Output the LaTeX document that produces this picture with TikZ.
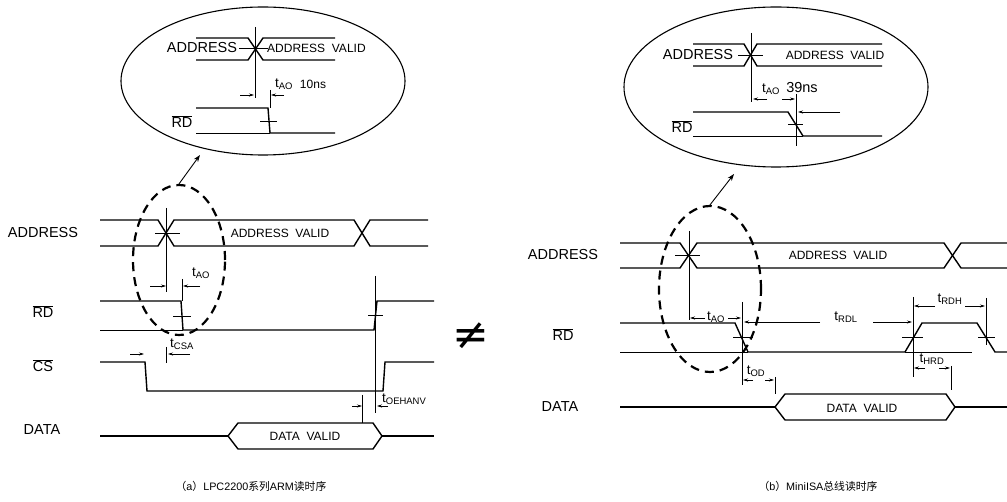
\documentclass[tikz,border=0pt]{standalone}
\usepackage{fontspec}
\setmainfont{Liberation Sans}
\newfontfamily\cjk{Noto Sans CJK SC}
\newfontfamily\djv{DejaVu Sans}
\usetikzlibrary{arrows.meta,shapes.geometric}
\newcommand{\tsb}[1]{t\textsubscript{#1}}
\newcommand{\ovl}[1]{$\overline{\hbox{#1}}$}
\tikzset{
  sig/.style={line width=1.4pt},
  thn/.style={line width=0.6pt},
  tarr/.style={line width=0.6pt,-{Stealth[length=5pt,width=3pt]}},
  lbl/.style={inner sep=0pt,font=\fontsize{14.5}{14.5}\selectfont},
  inlbl/.style={inner sep=0pt,font=\fontsize{12}{12}\selectfont},
  tlbl/.style={inner sep=0pt,font=\fontsize{13.5}{13.5}\selectfont},
  captxt/.style={inner sep=0pt,font=\fontsize{10.8}{10.8}\selectfont},
  dash ell/.style={ellipse,draw,line width=2.2pt,dash pattern=on 9pt off 6pt,inner sep=0pt},
  solid ell/.style={ellipse,draw,line width=1.1pt,inner sep=0pt},
  zoomarrow/.style={line width=0.9pt,-{Stealth[length=7pt,width=5pt]}}
}
\begin{document}
\begin{tikzpicture}[x=1pt,y=-1pt]
\useasboundingbox (0,0) rectangle (1007,502);

% ================= (a) =================
\node[lbl] (aAddr) at (43,233) {ADDRESS};
\node[lbl] (aRD) at (43,312) {\ovl{RD}};
\node[lbl] (aCS) at (43,366) {\ovl{CS}};
\node[lbl] (aData) at (42,430) {DATA};

% address bus
\draw[sig] (100,220) -- (158,220) -- (174,246) -- (354,246) -- (370,220) -- (428,220);
\draw[sig] (100,246) -- (158,246) -- (174,220) -- (354,220) -- (370,246) -- (428,246);
\node[inlbl] (aAV) at (280,233) {ADDRESS\ \ VALID};
\draw[thn] (155,233) -- (180,233);
\draw[thn] (166,208) -- (166,292);
% tAO
\draw[tarr] (150,286) -- (166,286);
\draw[tarr] (200,286) -- (183,286);
\draw[thn] (182,279) -- (182,301);
\node[tlbl] (aTAO) at (201,273) {\tsb{AO}};
% RD
\draw[thn] (100,330) -- (183,330);
\draw[sig] (100,301) -- (181,301) -- (183,330) -- (374,330) -- (377,301) -- (434,301);
\draw[thn] (173,316) -- (191,316);
\draw[thn] (368,315) -- (383,315);
\draw[thn] (375,276) -- (375,413);
% CS
\draw[sig] (100,362) -- (145,362) -- (147,391) -- (383,391) -- (385,362) -- (434,362);
\draw[tarr] (130,354) -- (144,354);
\draw[thn] (166,347) -- (166,363);
\draw[tarr] (190,354) -- (168,354);
\node[tlbl,anchor=west] (aTCSA) at (170,344) {\tsb{CSA}};
% tOEHANV
\draw[tarr] (352,406) -- (362,406);
\draw[thn] (362,395) -- (362,423);
\draw[tarr] (388,406) -- (377,406);
\node[tlbl,anchor=west] (aTOE) at (382,399) {\tsb{OEHANV}};
% DATA
\draw[sig] (100,436) -- (228,436);
\draw[sig] (228,436) -- (238,423) -- (373,423) -- (382,436) -- (373,449) -- (238,449) -- cycle;
\draw[sig] (382,436) -- (434,436);
\node[inlbl] (aDV) at (305,436) {DATA\ \ VALID};

% dashed ellipse and zoom ellipse
\node[dash ell,minimum width=92pt,minimum height=150pt] (aDash) at (179,260) {};
\node[solid ell,minimum width=284pt,minimum height=148pt] (aZoom) at (263,81) {};
\coordinate (aTip) at (200,155);
\draw[zoomarrow] (aDash.north) -- (aTip);

% inside zoom (a)
\node[lbl] (azAddr) at (202,48) {ADDRESS};
\draw[sig] (196,38) -- (248,38) -- (263,60) -- (335,60);
\draw[sig] (196,60) -- (248,60) -- (263,38) -- (335,38);
\draw[thn] (239,48) -- (268,48);
\draw[thn] (255,27) -- (255,98);
\node[inlbl,anchor=west] (azAV) at (267,48) {ADDRESS\ \ VALID};
\draw[tarr] (240,95) -- (254,95);
\draw[tarr] (284,95) -- (271,95);
\draw[thn] (270,90) -- (270,108);
\node[tlbl] (azTAO) at (284,84) {\tsb{AO}};
\node[inlbl] (az10) at (313,84) {10ns};
\node[lbl] (azRD) at (182,122) {\ovl{RD}};
\draw[thn] (196,133) -- (270,133);
\draw[sig] (196,108) -- (268,108) -- (270,133) -- (335,133);
\draw[thn] (260,121) -- (277,121);

% not equal sign
\node[inner sep=0pt,font=\djv\fontsize{44}{44}\selectfont] (neq) at (471,336) {≠};

% ================= (b) =================
\node[lbl] (bAddr) at (563,255) {ADDRESS};
\node[lbl] (bRD) at (563,335) {\ovl{RD}};
\node[lbl] (bData) at (560,407) {DATA};

\draw[sig] (620,243) -- (680,243) -- (697,268) -- (944,268) -- (961,243) -- (1007,243);
\draw[sig] (620,268) -- (680,268) -- (697,243) -- (944,243) -- (961,268) -- (1007,268);
\node[inlbl] (bAV) at (838,255) {ADDRESS\ \ VALID};
\draw[thn] (675,255) -- (700,255);
\draw[thn] (689,231) -- (689,320);
% tAO
\draw[tarr] (705,318) -- (690,318);
\node[tlbl] (bTAO) at (716,317) {\tsb{AO}};
\draw[tarr] (728,318) -- (741,318);
\draw[thn] (742,302) -- (742,385);
% tRDL
\draw[tarr] (820,322) -- (744,322);
\node[tlbl] (bTRDL) at (846,317) {\tsb{RDL}};
\draw[tarr] (873,322) -- (912,322);
\draw[thn] (913,297) -- (913,377);
% RD
\draw[thn] (620,352) -- (748,352);
\draw[thn] (905,352) -- (972,352);
\draw[sig] (620,323) -- (735,323) -- (748,352) -- (905,352) -- (922,323) -- (977,323) -- (995,352) -- (1007,352);
\draw[thn] (733,337) -- (753,337);
\draw[thn] (902,337) -- (923,337);
\draw[thn] (978,337) -- (995,337);
% tRDH
\draw[thn] (986,298) -- (986,345);
\draw[tarr] (935,306) -- (914,306);
\node[tlbl] (bTRDH) at (950,299) {\tsb{RDH}};
\draw[tarr] (965,306) -- (985,306);
% tHRD
\draw[thn] (951,366) -- (951,390);
\draw[tarr] (925,368) -- (914,368);
\node[tlbl] (bTHRD) at (932,359) {\tsb{HRD}};
\draw[tarr] (939,368) -- (950,368);
% tOD
\draw[thn] (775,377) -- (775,394);
\draw[tarr] (753,380) -- (743,380);
\node[tlbl] (bTOD) at (756,371) {\tsb{OD}};
\draw[tarr] (765,380) -- (774,380);
% DATA
\draw[sig] (620,407) -- (775,407);
\draw[sig] (775,407) -- (785,394) -- (946,394) -- (955,407) -- (946,420) -- (785,420) -- cycle;
\draw[sig] (955,407) -- (1007,407);
\node[inlbl] (bDV) at (862,408) {DATA\ \ VALID};

% dashed ellipse and zoom ellipse
\node[dash ell,minimum width=102pt,minimum height=166pt] (bDash) at (710,289) {};
\node[solid ell,minimum width=304pt,minimum height=160pt] (bZoom) at (776,87) {};
\coordinate (bTip) at (734,174);
\draw[zoomarrow] (bDash.north) -- (bTip);

% inside zoom (b)
\node[lbl] (bzAddr) at (698,55) {ADDRESS};
\draw[sig] (693,44) -- (744,44) -- (757,66) -- (882,66);
\draw[sig] (693,66) -- (744,66) -- (757,44) -- (882,44);
\draw[thn] (738,55) -- (763,55);
\draw[thn] (751,33) -- (751,102);
\node[inlbl] (bzAV) at (835,55) {ADDRESS\ \ VALID};
\draw[tarr] (767,99) -- (753,99);
\node[tlbl] (bzTAO) at (771,89) {\tsb{AO}};
\node[lbl] (bz39) at (802,88) {39ns};
\draw[tarr] (782,99) -- (795,99);
\draw[thn] (796,94) -- (796,146);
\draw[tarr] (840,112) -- (798,112);
\node[lbl] (bzRD) at (682,127) {\ovl{RD}};
\draw[thn] (693,136) -- (803,136);
\draw[sig] (693,112) -- (788,112) -- (803,136) -- (882,136);
\draw[thn] (788,124) -- (803,124);

% captions
\node[captxt] (capA) at (251,486) {{\cjk （}a{\cjk ）}LPC2200{\cjk 系列}ARM{\cjk 读时序}};
\node[captxt] (capB) at (818,486) {{\cjk （}b{\cjk ）}MiniISA{\cjk 总线读时序}};
\end{tikzpicture}
\end{document}
